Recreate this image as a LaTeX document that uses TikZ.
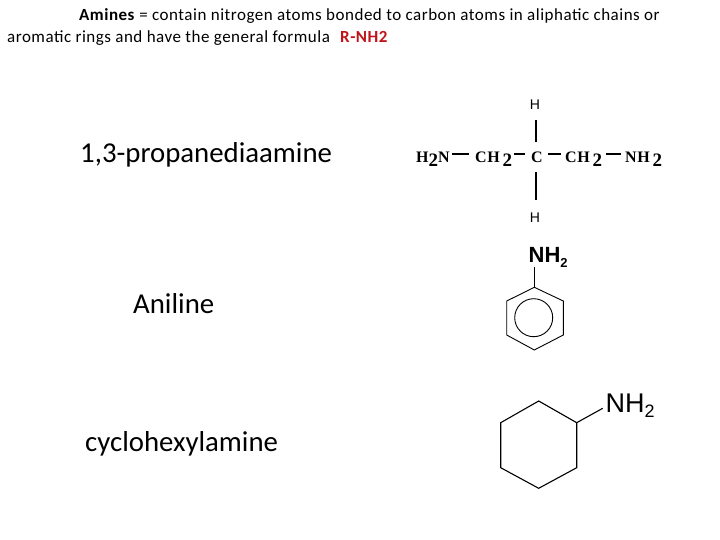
\documentclass[tikz,border=0pt]{standalone}
\usepackage{fontspec}
\setmainfont{Carlito}
\newfontfamily\chemsans{Liberation Sans}
\newfontfamily\chemserif[LetterSpace=4]{Liberation Serif}
\definecolor{formulared}{RGB}{192,20,24}
\tikzset{%
	heading/.style  = {anchor=base west, inner sep=0pt, font=\fontsize{17}{20}\selectfont\addfontfeature{LetterSpace=3}},
	compound/.style = {anchor=base west, inner sep=0pt, font=\fontsize{28.8}{32}\selectfont},
	atom/.style     = {inner sep=0pt, font=\chemserif\bfseries\fontsize{16}{18}\selectfont},
	hatom/.style    = {inner sep=0pt, font=\chemsans\fontsize{14}{16}\selectfont},
	bond/.style     = {draw, line width=1.2pt},
	ring/.style     = {draw, line width=0.9pt}
}
\newcommand{\lowtwo}{\raisebox{-4pt}{\fontsize{19}{19}\selectfont 2}}

\begin{document}
\begin{tikzpicture}[x=1pt,y=-1pt]
	\useasboundingbox (0,0) rectangle (720,540);
	% heading
	\node[heading] (lineOne)   at (79,21) {\textbf{Amines} = contain nitrogen atoms bonded to carbon atoms in aliphatic chains or};
	\node[heading] (lineTwo)   at (7,43) {aromatic rings and have the general formula};
	\node[heading,text=formulared] (formula) at (340,43) {\textbf{R-NH2}};

	% names
	\node[compound] (propane)  at (80,163) {1,3-propanediaamine};
	\node[compound] (aniline)  at (133,313) {Aniline};
	\node[compound] (cyclo)    at (85,451) {cyclohexylamine};

	% 1,3-propanediamine
	\node[atom,anchor=base west] (hTwoN)  at (416,163) {H\lowtwo N};
	\node[atom,anchor=base west] (chTwoA) at (475,163) {CH\,\lowtwo};
	\node[atom,anchor=base]      (carbon) at (537,163) {C};
	\node[atom,anchor=base west] (chTwoB) at (565,163) {CH\,\lowtwo};
	\node[atom,anchor=base west] (nhTwo)  at (625,163) {NH\,\lowtwo};
	\node[hatom] (hTop)    at (535,105) {H};
	\node[hatom] (hBottom) at (535,218) {H};
	\coordinate (topEnd)    at (536,120);
	\coordinate (topStart)  at (536,142);
	\coordinate (botStart)  at (536,172);
	\coordinate (botEnd)    at (536,200);
	\draw[bond,shorten <=2pt,shorten >=6pt] (hTwoN.east |- 0,154) -- (chTwoA.west |- 0,154);
	\draw[bond,shorten <=2pt,shorten >=6pt] (chTwoA.east |- 0,154) -- (carbon.west |- 0,154);
	\draw[bond,shorten <=5pt,shorten >=4pt] (carbon.east |- 0,154) -- (chTwoB.west |- 0,154);
	\draw[bond,shorten <=4pt,shorten >=4pt] (chTwoB.east |- 0,154) -- (nhTwo.west |- 0,154);
	\draw[bond] (topEnd) -- (topStart);
	\draw[bond] (botStart) -- (botEnd);

	% aniline
	\node[anchor=base west,inner sep=0pt,font=\chemsans\bfseries\fontsize{22}{24}\selectfont] (anilineN) at (528.5,262) {NH\raisebox{-5pt}{\fontsize{13}{14}\selectfont 2}};
	\coordinate (anA) at (534.3,287.3);
	\coordinate (anB) at (563.3,301);
	\coordinate (anC) at (563.3,335);
	\coordinate (anD) at (534.3,350);
	\coordinate (anE) at (506.7,335);
	\coordinate (anF) at (506.7,301);
	\coordinate (anStem) at (534.3,267);
	\draw[ring] (anA) -- (anB) -- (anC) -- (anD) -- (anE) -- (anF) -- cycle;
	\draw[ring] (anStem) -- (anA);
	\draw[ring] (533.7,317.7) circle (19);

	% cyclohexylamine
	\node[anchor=base west,inner sep=0pt,font=\chemsans\fontsize{27}{28}\selectfont] (cycloN) at (605.5,412.5) {NH\raisebox{-5pt}{\fontsize{18}{18}\selectfont 2}};
	\coordinate (cyA) at (538.7,401);
	\coordinate (cyB) at (576.7,422.7);
	\coordinate (cyC) at (576.7,467.7);
	\coordinate (cyD) at (538.7,488.3);
	\coordinate (cyE) at (500.7,467.7);
	\coordinate (cyF) at (500.7,422.7);
	\coordinate (cyStem) at (602.7,408.3);
	\draw[ring,line width=1.1pt] (cyA) -- (cyB) -- (cyC) -- (cyD) -- (cyE) -- (cyF) -- cycle;
	\draw[ring,line width=1.1pt] (cyB) -- (cyStem);
\end{tikzpicture}
\end{document}
